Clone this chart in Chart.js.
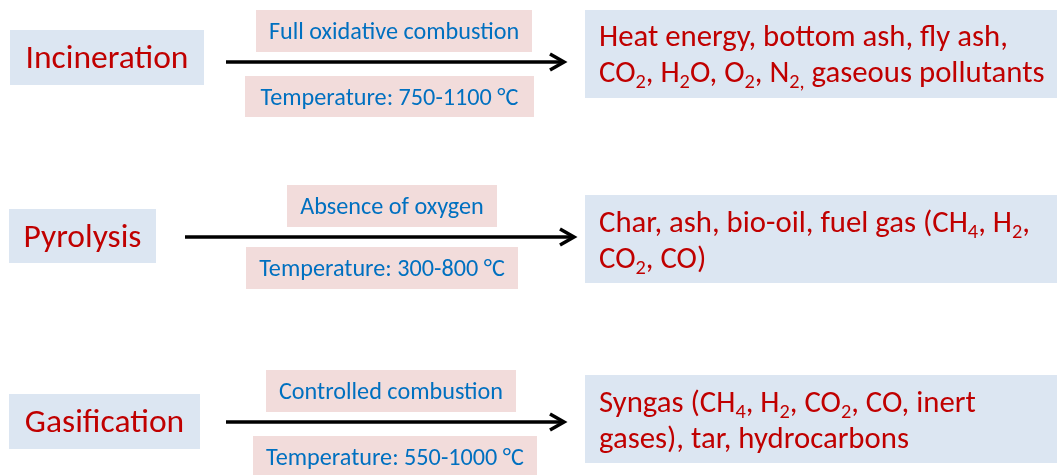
<!DOCTYPE html>
<html><head><meta charset="utf-8">
<script src="https://cdn.jsdelivr.net/npm/chart.js@4"></script>
<style>html,body{margin:0;padding:0;background:#fff;}#wrap{width:1058px;height:475px;position:relative;}</style>
</head><body><div id="wrap"><canvas id="c"></canvas></div>
<script>
// ---- data ----
const processes = ['Incineration', 'Pyrolysis', 'Gasification'];
const conditions = ['Full oxidative combustion', 'Absence of oxygen', 'Controlled combustion'];
const tempRanges = ['750-1100', '300-800', '550-1000'];
const tempLabel = 'Temperature:';
const tempUnit = '°C';
const productLines = [
  ['Heat energy, bottom ash, fly ash,', 'CO_{2}, H_{2}O, O_{2}, N_{2,} gaseous pollutants'],
  ['Char, ash, bio-oil, fuel gas (CH_{4}, H_{2},', 'CO_{2}, CO)'],
  ['Syngas (CH_{4}, H_{2}, CO_{2}, CO, inert', 'gases), tar, hydrocarbons']
];

// ---- layout (positions in scale units) ----
const LAYOUT = {
  procBox: [[10,30,204,85],[9,209,156,263],[9,394,200,449]],
  condBox: [[256,10,532,52],[287,185,497,227],[266,370,516,412]],
  tempBox: [[245,76,534,117],[246,247,518,289],[253,436,537,477]],
  arrow:   [[226,565,62],[185,575,237],[226,565,422]],
  prodBox: [[585,10,1057,98],[585,195,1057,283],[585,375,1057,463]],
  prodTextX: 599,
  prodBaselines: [[46,82],[232,268],[412,448]]
};
const STYLE = {
  family: 'Carlito, Lato, "Open Sans", sans-serif',
  red: '#C00000', blue: '#0070C0', boxBlue: '#DCE6F2', boxPink: '#F2DCDB',
  labelFitText: 'Incineration', labelFitW: 163,
  smallFitText: 'Temperature: 750-1100 °C', smallFitW: 258,
  prodFitText: 'Heat energy, bottom ash, fly ash,', prodFitW: 409,
  subScale: 0.66, subDrop: 0.2
};

function parseRuns(s) {
  const runs = []; const re = /_\{([^}]*)\}/g; let last = 0, m;
  while ((m = re.exec(s))) {
    if (m.index > last) runs.push({t: s.slice(last, m.index), sub: false});
    runs.push({t: m[1], sub: true}); last = re.lastIndex;
  }
  if (last < s.length) runs.push({t: s.slice(last), sub: false});
  return runs;
}

const diagramPlugin = {
  id: 'diagram',
  beforeDraw(chart) {
    const ctx = chart.ctx;
    ctx.save(); ctx.fillStyle = '#fff'; ctx.fillRect(0, 0, chart.width, chart.height); ctx.restore();
  },
  afterDraw(chart) {
    const ctx = chart.ctx, sx = chart.scales.x, sy = chart.scales.y;
    const X = v => sx.getPixelForValue(v), Y = v => sy.getPixelForValue(v);
    const fit = (txt, w) => { ctx.font = '100px ' + STYLE.family; return 100 * w / ctx.measureText(txt).width; };
    const labelSize = fit(STYLE.labelFitText, STYLE.labelFitW);
    const smallSize = fit(STYLE.smallFitText, STYLE.smallFitW);
    const prodSize = fit(STYLE.prodFitText, STYLE.prodFitW);
    const capH = size => { ctx.font = size + 'px ' + STYLE.family; return ctx.measureText('H').actualBoundingBoxAscent; };

    const rect = (b, color) => {
      ctx.fillStyle = color;
      ctx.fillRect(X(b[0]), Y(b[1]), X(b[2]) - X(b[0]), Y(b[3]) - Y(b[1]));
    };
    const centeredText = (txt, b, size, color) => {
      ctx.font = size + 'px ' + STYLE.family; ctx.fillStyle = color;
      ctx.textAlign = 'center'; ctx.textBaseline = 'alphabetic';
      const cy = (Y(b[1]) + Y(b[3])) / 2;
      ctx.fillText(txt, (X(b[0]) + X(b[2])) / 2, cy + capH(size) / 2);
    };
    const runText = (s, x, y, size, color) => {
      ctx.fillStyle = color; ctx.textAlign = 'left'; ctx.textBaseline = 'alphabetic';
      let cx = x;
      for (const r of parseRuns(s)) {
        const sz = r.sub ? size * STYLE.subScale : size;
        ctx.font = sz + 'px ' + STYLE.family;
        ctx.fillText(r.t, cx, y + (r.sub ? size * STYLE.subDrop : 0));
        cx += ctx.measureText(r.t).width;
      }
    };

    ctx.save();
    processes.forEach((p, i) => {
      rect(LAYOUT.procBox[i], STYLE.boxBlue);
      centeredText(p, LAYOUT.procBox[i], labelSize, STYLE.red);
      rect(LAYOUT.condBox[i], STYLE.boxPink);
      centeredText(conditions[i], LAYOUT.condBox[i], smallSize, STYLE.blue);
      rect(LAYOUT.tempBox[i], STYLE.boxPink);
      centeredText(tempLabel + ' ' + tempRanges[i] + ' ' + tempUnit, LAYOUT.tempBox[i], smallSize, STYLE.blue);
      rect(LAYOUT.prodBox[i], STYLE.boxBlue);
      productLines[i].forEach((ln, j) => runText(ln, X(LAYOUT.prodTextX), Y(LAYOUT.prodBaselines[i][j]), prodSize, STYLE.red));

      // arrow
      const a = LAYOUT.arrow[i];
      const x1 = X(a[0]), x2 = X(a[1]), y = Y(a[2]);
      ctx.strokeStyle = '#000'; ctx.lineWidth = 3.5; ctx.lineCap = 'butt'; ctx.lineJoin = 'miter';
      ctx.beginPath(); ctx.moveTo(x1, y); ctx.lineTo(x2 - 2, y); ctx.stroke();
      ctx.beginPath(); ctx.moveTo(x2 - 15, y - 8); ctx.lineTo(x2 - 1, y); ctx.lineTo(x2 - 15, y + 8); ctx.stroke();
    });
    ctx.restore();
  }
};

new Chart(document.getElementById('c'), {
  type: 'scatter',
  data: { datasets: [{ label: 'processes', data: [] }] },
  options: {
    responsive: true, maintainAspectRatio: false, animation: false,
    layout: { padding: 0 },
    plugins: { legend: { display: false }, tooltip: { enabled: false } },
    scales: {
      x: { type: 'linear', min: 0, max: 1058, display: false },
      y: { type: 'linear', min: 0, max: 475, reverse: true, display: false }
    }
  },
  plugins: [diagramPlugin]
});
</script>
</body></html>
